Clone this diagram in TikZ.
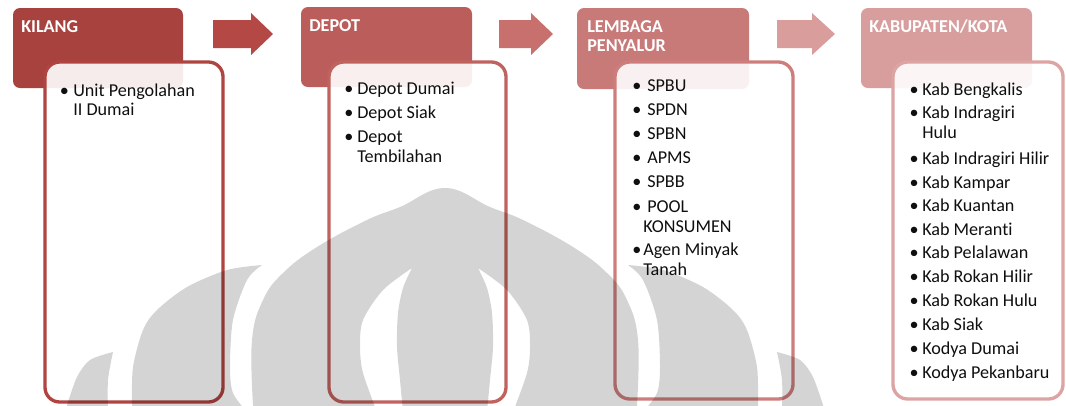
\documentclass[tikz,border=0pt]{standalone}
\usepackage{fontspec}
\setmainfont{Carlito}[Ligatures={NoCommon,NoRare}]
\definecolor{hdrA}{RGB}{168,66,63}
\definecolor{hdrB}{RGB}{187,94,91}
\definecolor{hdrC}{RGB}{200,122,120}
\definecolor{hdrD}{RGB}{216,158,158}
\definecolor{arrA}{RGB}{180,72,69}
\definecolor{arrB}{RGB}{199,112,109}
\definecolor{arrC}{RGB}{217,158,156}
\definecolor{rimA}{RGB}{175,68,64}
\definecolor{rimB}{RGB}{192,98,94}
\definecolor{rimC}{RGB}{205,126,124}
\definecolor{rimD}{RGB}{220,164,163}
\definecolor{txt}{RGB}{15,15,15}
\tikzset{
  header/.style={rounded corners=5.25pt, draw=none},
  panel/.style={rounded corners=11pt, line width=2.5pt, fill=white, fill opacity=0.9},
  flowarrow/.style={draw=none},
  htext/.style={anchor=base west, inner sep=0pt, text=white,
    font=\fontsize{13.6pt}{16pt}\selectfont\bfseries},
  itext/.style={anchor=base west, inner sep=0pt, text=txt,
    font=\fontsize{13.6pt}{16pt}\selectfont},
  bul/.style={anchor=base, inner sep=0pt, text=txt,
    font=\fontsize{13.6pt}{16pt}\selectfont},
  wm/.style={fill=black, fill opacity=0.17, draw=none}
}
\begin{document}
\begin{tikzpicture}[x=0.75pt, y=-0.75pt]
\useasboundingbox (0,0) rectangle (1066,405);
\fill[white] (0,0) rectangle (1066,405);
\begin{scope}
\clip (0,0) rectangle (1066,405);

% stage headers
\fill[header, hdrA] (13,8) rectangle (183,88);
\fill[header, hdrB] (301,7) rectangle (472,87);
\fill[header, hdrC] (577,8) rectangle (749,89);
\fill[header, hdrD] (861,8) rectangle (1032,88);

% content panels
\path[panel, draw=rimA] (45,62) rectangle (223,402);
\path[panel, draw=rimB] (329,62) rectangle (506,402);
\path[panel, draw=rimC] (615,62) rectangle (793,399);
\path[panel, draw=rimD] (893,62) rectangle (1063,399);

% block arrows between stages
\fill[flowarrow, arrA] (213,20) -- (251,20) -- (251,13) -- (273,34) -- (251,55) -- (251,48) -- (213,48) -- cycle;
\fill[flowarrow, arrB] (499,20) -- (531,20) -- (531,13) -- (553,34) -- (531,55) -- (531,48) -- (499,48) -- cycle;
\fill[flowarrow, arrC] (777,20) -- (812,20) -- (812,13) -- (835,34) -- (812,55) -- (812,48) -- (777,48) -- cycle;

% background emblem
\fill[wm, even odd rule]
  (253,412) -- plot[smooth, tension=0.7] coordinates {(253,405) (252,340) (263,300) (283,273) (317,247) (367,220) (400,207) (445,188) (490,207) (523,220) (573,247) (607,273) (627,300) (638,340) (637,405)} -- (637,412) -- cycle
  (412,268) -- plot[smooth] coordinates {(412,268) (383,290) (363,320) (360,347) (363,373) (377,412)} -- (403,412) -- plot[smooth] coordinates {(403,412) (400,380) (397,347) (398,313) (403,288) (412,268)} -- cycle
  (478,268) -- plot[smooth] coordinates {(478,268) (507,290) (527,320) (530,347) (527,373) (513,412)} -- (487,412) -- plot[smooth] coordinates {(487,412) (490,380) (493,347) (492,313) (487,288) (478,268)} -- cycle;
\fill[wm] (132,412) -- plot[smooth] coordinates {(132,405) (133,367) (143,330) (157,310) (187,287) (227,270) (262,265)}
  -- plot[smooth] coordinates {(262,265) (247,280) (233,320) (230,367) (233,393) (247,412)} -- cycle;
\fill[wm] (758,412) -- plot[smooth] coordinates {(758,405) (757,367) (747,330) (733,310) (703,287) (663,270) (628,265)}
  -- plot[smooth] coordinates {(628,265) (643,280) (657,320) (660,367) (657,393) (643,412)} -- cycle;
\fill[wm] (67,412) -- plot[smooth] coordinates {(67,405) (77,377) (90,360) (113,352)}
  -- plot[smooth] coordinates {(113,352) (108,380) (108,412)} -- cycle;
\fill[wm] (823,412) -- plot[smooth] coordinates {(823,405) (813,377) (800,360) (777,352)}
  -- plot[smooth] coordinates {(777,352) (782,380) (782,412)} -- cycle;
\end{scope}

% header titles
\node[htext] (h1) at (21,32) {KILANG};
\node[htext] (h2) at (309,31) {DEPOT};
\node[htext] (h3a) at (587,32) {LEMBAGA};
\node[htext] (h3b) at (587,51) {PENYALUR};
\node[htext] (h4) at (869,32) {KABUPATEN/KOTA};

% stage 1
\node[bul] (b11) at (64.5,96) {•};
\node[itext] (t11) at (73,96) {Unit Pengolahan};
\node[itext] (t11b) at (73,115) {II Dumai};

% stage 2
\node[bul] (b21) at (349,94) {•};
\node[itext] (t21) at (357,94) {Depot Dumai};
\node[bul] (b22) at (349,118) {•};
\node[itext] (t22) at (357,118) {Depot Siak};
\node[bul] (b23) at (349,142) {•};
\node[itext] (t23) at (357,142) {Depot};
\node[itext] (t23b) at (357,162) {Tembilahan};

% stage 3
\node[bul] (b31) at (637,91) {•};
\node[itext] (t31) at (647,91) {SPBU};
\node[bul] (b32) at (637,115) {•};
\node[itext] (t32) at (647,115) {SPDN};
\node[bul] (b33) at (637,139) {•};
\node[itext] (t33) at (647,139) {SPBN};
\node[bul] (b34) at (637,163) {•};
\node[itext] (t34) at (647,163) {APMS};
\node[bul] (b35) at (637,187) {•};
\node[itext] (t35) at (647,187) {SPBB};
\node[bul] (b36) at (637,212) {•};
\node[itext] (t36) at (647,212) {POOL};
\node[itext] (t36b) at (643,232) {KONSUMEN};
\node[bul] (b37) at (637,255) {•};
\node[itext] (t37) at (643,255) {Agen Minyak};
\node[itext] (t37b) at (643,275) {Tanah};

% stage 4
\node[bul] (b41) at (914,95) {•};
\node[itext] (t41) at (922,95) {Kab Bengkalis};
\node[bul] (b42) at (914,118) {•};
\node[itext] (t42) at (922,118) {Kab Indragiri};
\node[itext] (t42b) at (922,138) {Hulu};
\node[bul] (b43) at (914,164) {•};
\node[itext] (t43) at (922,164) {Kab Indragiri Hilir};
\node[bul] (b44) at (914,188) {•};
\node[itext] (t44) at (922,188) {Kab Kampar};
\node[bul] (b45) at (914,211) {•};
\node[itext] (t45) at (922,211) {Kab Kuantan};
\node[bul] (b46) at (914,235) {•};
\node[itext] (t46) at (922,235) {Kab Meranti};
\node[bul] (b47) at (914,258) {•};
\node[itext] (t47) at (922,258) {Kab Pelalawan};
\node[bul] (b48) at (914,282) {•};
\node[itext] (t48) at (922,282) {Kab Rokan Hilir};
\node[bul] (b49) at (914,306) {•};
\node[itext] (t49) at (922,306) {Kab Rokan Hulu};
\node[bul] (b4a) at (914,330) {•};
\node[itext] (t4a) at (922,330) {Kab Siak};
\node[bul] (b4b) at (914,354) {•};
\node[itext] (t4b) at (922,354) {Kodya Dumai};
\node[bul] (b4c) at (914,378) {•};
\node[itext] (t4c) at (922,378) {Kodya Pekanbaru};
\end{tikzpicture}
\end{document}
